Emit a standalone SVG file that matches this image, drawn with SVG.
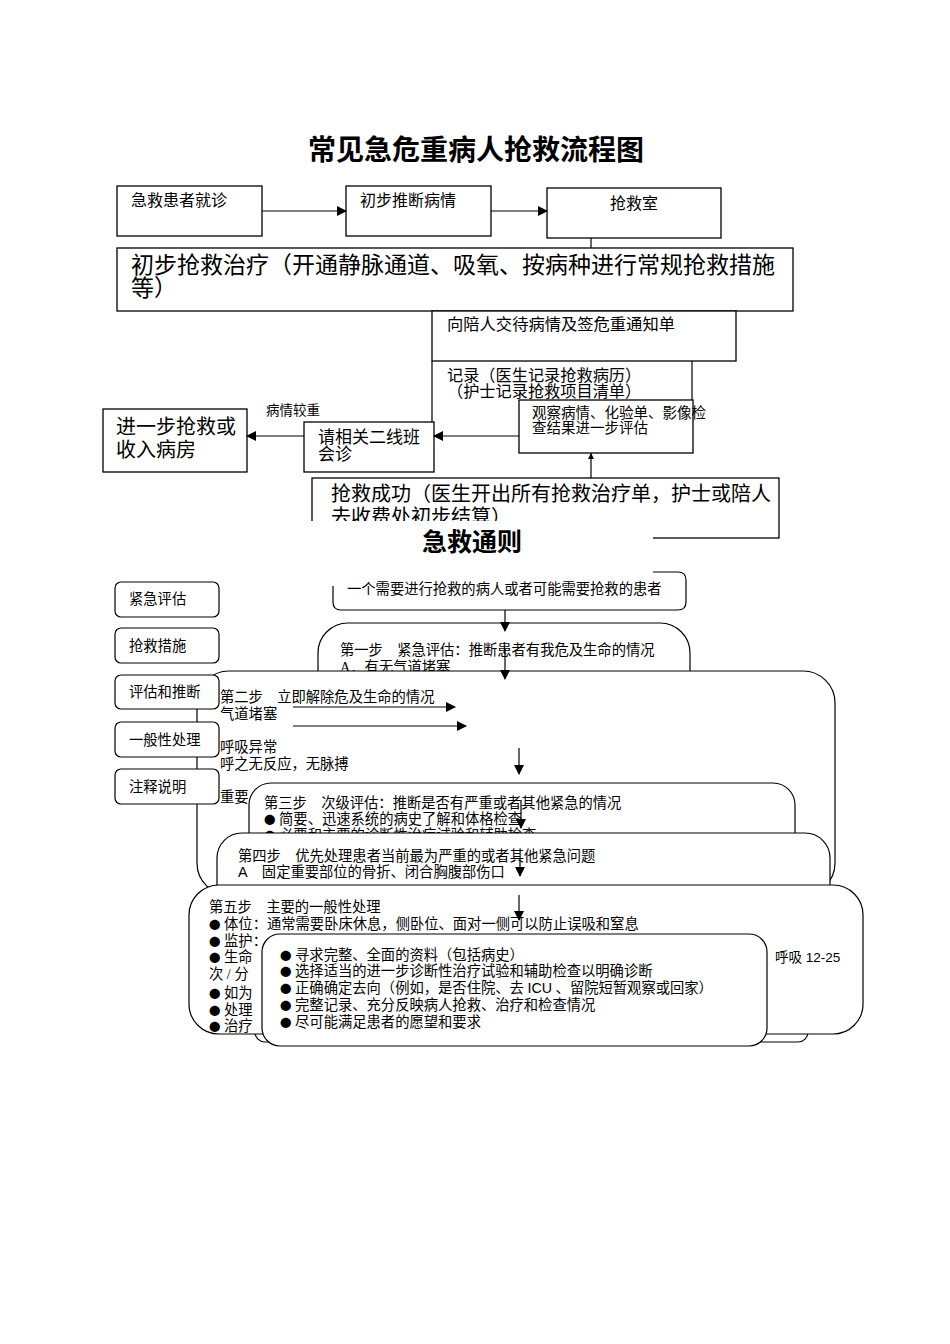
<svg xmlns="http://www.w3.org/2000/svg" width="950" height="1344" viewBox="0 0 950 1344">
<style>
text{font-family:"Liberation Serif","Noto Sans CJK SC",serif;fill:#000}
.t{font-size:14.3px}
.h{font-family:"Noto Sans CJK SC",sans-serif;font-weight:bold}
.b{fill:#fff;stroke:#000;stroke-width:1.3}
.r{fill:#fff;stroke:#000;stroke-width:1.2}
.c{fill:none;stroke:#000;stroke-width:1.2}
.cal{font-family:"Liberation Sans","Noto Sans CJK SC",sans-serif}
.d{font-family:"Noto Sans CJK SC",sans-serif;font-size:11.5px}
</style>
<defs>
<marker id="ah" markerUnits="userSpaceOnUse" markerWidth="10" markerHeight="10" refX="9" refY="5" orient="auto">
<path d="M0,0 L10,5 L0,10 Z" fill="#000"/>
</marker>
<clipPath id="cl1"><rect x="300" y="470" width="500" height="51"/></clipPath>
</defs>
<rect width="950" height="1344" fill="#fff"/>

<text class="h" x="476" y="160" font-size="28" text-anchor="middle">常见急危重病人抢救流程图</text>

<g id="n1"><rect class="b" x="117" y="186" width="145" height="50"/><text x="131" y="206" font-size="16">急救患者就诊</text></g>
<g id="n2"><rect class="b" x="346" y="186" width="145" height="50"/><text x="360" y="206" font-size="16">初步推断病情</text></g>
<g id="n3"><rect class="b" x="547" y="188" width="174" height="50"/><text x="634" y="209" font-size="16" text-anchor="middle">抢救室</text></g>
<g id="n4"><rect class="b" x="117" y="248" width="676" height="63"/>
<text x="131" y="273" font-size="23">初步抢救治疗（开通静脉通道、吸氧、按病种进行常规抢救措施</text>
<text x="131" y="296" font-size="23">等）</text></g>
<g id="n5"><rect class="b" x="432" y="311" width="304" height="50"/><text x="447" y="330" font-size="16.3">向陪人交待病情及签危重通知单</text></g>
<g id="n6"><path class="c" d="M432,361 V422 M692,361 V400"/>
<text x="447" y="381" font-size="16.2">记录（医生记录抢救病历）</text>
<text x="447" y="397" font-size="16.2">（护士记录抢救项目清单）</text></g>
<g id="n7"><rect class="b" x="519" y="400" width="174" height="53"/>
<text x="532" y="418" font-size="14.5">观察病情、化验单、影像检</text>
<text x="532" y="433" font-size="14.5">查结果进一步评估</text></g>
<g id="n8"><rect class="b" x="304" y="422" width="130" height="50"/>
<text x="318" y="443" font-size="17">请相关二线班</text>
<text x="318" y="460" font-size="17">会诊</text></g>
<g id="n9"><rect class="b" x="103" y="409" width="144" height="63"/>
<text x="116" y="434" font-size="20">进一步抢救或</text>
<text x="116" y="457" font-size="20">收入病房</text></g>
<text x="266" y="415" font-size="13.5">病情较重</text>
<g id="n10"><rect class="b" x="312" y="478" width="467" height="60"/>
<text x="331" y="501" font-size="20">抢救成功（医生开出所有抢救治疗单，护士或陪人</text>
<text x="331" y="524" font-size="20" clip-path="url(#cl1)">去收费处初步结算）</text></g>

<g id="top-connectors">
<line class="c" x1="262" y1="211" x2="346" y2="211" marker-end="url(#ah)"/>
<line class="c" x1="491" y1="211" x2="547" y2="211" marker-end="url(#ah)"/>
<line class="c" x1="591" y1="238" x2="591" y2="248"/>
<line class="c" x1="519" y1="436" x2="434" y2="436" marker-end="url(#ah)"/>
<line class="c" x1="304" y1="436" x2="247" y2="436" marker-end="url(#ah)"/>
<line class="c" x1="591" y1="478" x2="591" y2="453"/>
<path d="M588,459 L594,459 L591,453 Z" fill="#000"/>
</g>

<rect x="300" y="521" width="353" height="65" fill="#fff"/>
<text class="h" x="472" y="551" font-size="25" text-anchor="middle">急救通则</text>

<g id="s0"><path class="r" d="M333,586 V602 Q333,610 341,610 H678 Q686,610 686,602 V580 Q686,572 678,572 H653"/>
<text class="t" x="347" y="594">一个需要进行抢救的病人或者可能需要抢救的患者</text></g>

<g id="s1"><rect class="r" x="318" y="623" width="372" height="120" rx="30" ry="30"/>
<text class="t" x="340" y="655">第一步　紧急评估：推断患者有我危及生命的情况</text>
<text class="t" x="340" y="672">A．有无气道堵塞</text></g>

<g id="s2"><rect class="r" x="197" y="671" width="638" height="224" rx="32" ry="32"/>
<text class="t" x="220" y="702">第二步　立即解除危及生命的情况</text>
<text class="t" x="220" y="719">气道堵塞</text>
<text class="t" x="220" y="752">呼吸异常</text>
<text class="t" x="220" y="769">呼之无反应，无脉搏</text>
<text class="t" x="220" y="802">重要</text></g>

<g id="l1"><rect class="r" x="115" y="582" width="104" height="35" rx="6"/><text class="t" x="129" y="604">紧急评估</text></g>
<g id="l2"><rect class="r" x="115" y="628" width="104" height="35" rx="6"/><text class="t" x="129" y="651">抢救措施</text></g>
<g id="l3"><rect class="r" x="115" y="675" width="104" height="34" rx="6"/><text class="t" x="129" y="697">评估和推断</text></g>
<g id="l4"><rect class="r" x="115" y="722" width="104" height="35" rx="6"/><text class="t" x="129" y="745">一般性处理</text></g>
<g id="l5"><rect class="r" x="115" y="769" width="104" height="35" rx="6"/><text class="t" x="129" y="792">注释说明</text></g>

<g id="s3"><rect class="r" x="249" y="783" width="546" height="120" rx="22" ry="22"/>
<text class="t" x="264" y="808">第三步　次级评估：推断是否有严重或者其他紧急的情况</text>
<text class="t" x="264" y="824"><tspan class="d">●</tspan> 简要、迅速系统的病史了解和体格检查</text>
<text class="t" x="264" y="840"><tspan class="d">●</tspan> 必要和主要的诊断性治疗试验和辅助检查</text></g>

<g id="s4"><rect class="r" x="217" y="833" width="613" height="90" rx="25" ry="25"/>
<text class="t" x="238" y="861">第四步　优先处理患者当前最为严重的或者其他紧急问题</text>
<text class="t" x="238" y="877"><tspan class="cal">A</tspan>　固定重要部位的骨折、闭合胸腹部伤口</text></g>

<g id="s6"><rect class="r" x="255" y="940" width="553" height="102" rx="10" ry="10"/></g>

<g id="s5"><rect class="r" x="189" y="885" width="674" height="149" rx="30" ry="30"/>
<text class="t" x="209" y="912">第五步　主要的一般性处理</text>
<text class="t" x="209" y="929"><tspan class="d">●</tspan> 体位：通常需要卧床休息，侧卧位、面对一侧可以防止误吸和窒息</text>
<text class="t" x="209" y="946"><tspan class="d">●</tspan> 监护：</text>
<text class="t" x="209" y="962"><tspan class="d">●</tspan> 生命</text>
<text class="cal" x="775" y="962" font-size="13.5">呼吸 12-25</text>
<text class="t" x="209" y="979">次 / 分</text>
<text class="t" x="209" y="998"><tspan class="d">●</tspan> 如为</text>
<text class="t" x="209" y="1015"><tspan class="d">●</tspan> 处理</text>
<text class="t" x="209" y="1031"><tspan class="d">●</tspan> 治疗</text></g>

<g id="s7"><rect class="r" x="262" y="934" width="505" height="112" rx="18" ry="18"/>
<text class="t" x="280" y="960"><tspan class="d">●</tspan> 寻求完整、全面的资料（包括病史）</text>
<text class="t" x="280" y="976"><tspan class="d">●</tspan> 选择适当的进一步诊断性治疗试验和辅助检查以明确诊断</text>
<text class="t" x="280" y="993"><tspan class="d">●</tspan> 正确确定去向（例如，是否住院、去 <tspan class="cal">ICU</tspan> 、留院短暂观察或回家）</text>
<text class="t" x="280" y="1010"><tspan class="d">●</tspan> 完整记录、充分反映病人抢救、治疗和检查情况</text>
<text class="t" x="280" y="1027"><tspan class="d">●</tspan> 尽可能满足患者的愿望和要求</text></g>

<g id="connectors">
<line class="c" x1="505" y1="610" x2="505" y2="631" marker-end="url(#ah)"/>
<line class="c" x1="505" y1="648" x2="505" y2="679" marker-end="url(#ah)"/>
<line class="c" x1="293" y1="707" x2="455" y2="707" marker-end="url(#ah)"/>
<line class="c" x1="293" y1="726" x2="466" y2="726" marker-end="url(#ah)"/>
<line class="c" x1="519" y1="748" x2="519" y2="774" marker-end="url(#ah)"/>
<line class="c" x1="521" y1="800" x2="521" y2="828" marker-end="url(#ah)"/>
<line class="c" x1="520" y1="858" x2="520" y2="876" marker-end="url(#ah)"/>
<line class="c" x1="519" y1="895" x2="519" y2="920" marker-end="url(#ah)"/>
</g>
</svg>
